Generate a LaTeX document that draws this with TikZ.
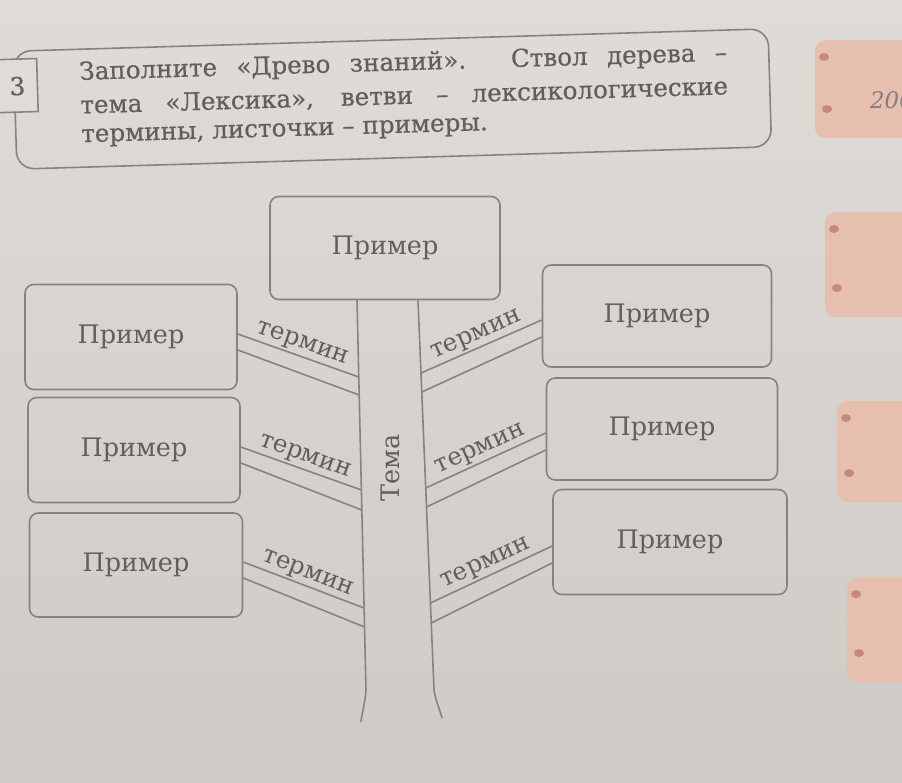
\documentclass[tikz,border=0pt]{standalone}
\usepackage{fontspec}
\setmainfont{DejaVu Serif}
\newfontfamily\heavyfont[FakeBold=0.6]{DejaVu Serif}
\usepackage{xcolor}
\usetikzlibrary{calc}

\definecolor{paper}{RGB}{223,220,216}
\definecolor{paperdark}{RGB}{206,202,198}
\definecolor{ink}{RGB}{134,130,126}
\definecolor{print}{RGB}{98,94,90}
\definecolor{tab}{RGB}{231,191,175}
\definecolor{tabdot}{RGB}{196,136,124}

\tikzset{
  rim/.style={draw=ink, line width=0.9pt},
  leaf/.style 2 args={rim, rounded corners=5pt, minimum width=#1*0.02cm, minimum height=#2*0.02cm,
    text=print, font=\fontsize{14.5}{16}\selectfont},
  termlbl/.style={text=print, font=\fontsize{14}{16}\selectfont, sloped, above, inner sep=1pt},
  hdr/.style={text=print, font=\heavyfont\fontsize{14}{16}\selectfont, inner sep=0pt, anchor=west},
}

\begin{document}
\begin{tikzpicture}[x=0.02cm, y=-0.02cm]
  \useasboundingbox (0,0) rectangle (902,782);
  \clip (0,0) rectangle (902,782);
  \shade[top color=paper, bottom color=paperdark] (0,0) rectangle (902,782);

  \foreach \x/\ya/\yb in {815/40/138, 825/212/317, 837/401/502, 847/577/682} {
    \fill[tab, rounded corners=6pt] (\x,\ya) rectangle (930,\yb);
    \fill[tabdot] (\x+9,\ya+17) ellipse (5 and 4);
    \fill[tabdot] (\x+12,\yb-29) ellipse (5 and 4);
  }
  \node[text=print!80, font=\itshape\fontsize{13}{15}\selectfont, anchor=west] (page) at (864,100) {200};

  \begin{scope}[rotate around={1.7:(392,100)}, transform shape]
    \draw[rim, rounded corners=10pt] (15,40) rectangle (770,158);
    \draw[rim, fill=paper] (-5,48) rectangle (38,101);
    \node[hdr, anchor=center] (num) at (18,75) {3};
    \node[hdr] (task1) at (80,64) {\makebox[12.96cm][s]{Заполните «Древо знаний». Ствол дерева –}};
    \node[hdr] (task2) at (80,97) {\makebox[12.96cm][s]{тема «Лексика», ветви – лексикологические}};
    \node[hdr] (task3) at (80,129) {термины, листочки – примеры.};
  \end{scope}

  \node[leaf={230}{103}] (top) at (385,248) {Пример};
  \draw[rim] ($(top.south)+(-28,0)$) -- (366,690) .. controls (365,704) and (362,712) .. (361,722);
  \draw[rim] ($(top.south)+(33,0)$) -- (434,690) .. controls (436,702) and (440,710) .. (442,718);
  \node[rotate=90, text=print, font=\fontsize{14.5}{16}\selectfont] (tema) at (390,468) {Тема};

  \node[leaf={212}{105}] (l1) at (131,337) {Пример};
  \node[leaf={212}{105}] (l2) at (134,450) {Пример};
  \node[leaf={213}{104}] (l3) at (136,565) {Пример};
  \node[leaf={229}{102}] (r1) at (657,316) {Пример};
  \node[leaf={231}{102}] (r2) at (662,429) {Пример};
  \node[leaf={234}{105}] (r3) at (670,542) {Пример};

  \foreach \b/\xa/\ya/\xb/\yb in {l1/358.8/377/359.2/395, l2/361.4/490/361.8/510, l3/364.1/608/364.5/627} {
    \coordinate (\b-up) at (\xa,\ya);
    \coordinate (\b-dn) at (\xb,\yb);
    \draw[rim] ($(\b.east)+(0,-3)$) -- node[termlbl] {термин} (\b-up);
    \draw[rim] ($(\b.east)+(0,13)$) -- (\b-dn);
  }
  \foreach \b/\xa/\ya/\xb/\yb in {r1/421.0/373/421.8/392, r2/425.7/488/426.5/507, r3/430.4/603/431.2/623} {
    \coordinate (\b-up) at (\xa,\ya);
    \coordinate (\b-dn) at (\xb,\yb);
    \draw[rim] (\b-up) -- node[termlbl] {термин} ($(\b.west)+(0,4)$);
    \draw[rim] (\b-dn) -- ($(\b.west)+(0,21)$);
  }
\end{tikzpicture}
\end{document}
